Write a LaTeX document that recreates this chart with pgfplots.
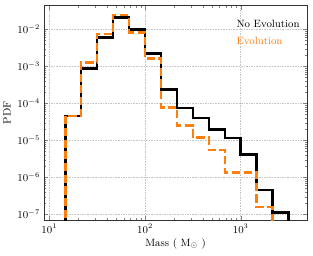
\documentclass[border=0pt]{standalone}
\usepackage{pgfplots}
\pgfplotsset{compat=1.18}
\usetikzlibrary{calc}
\definecolor{evo}{RGB}{255,127,14}
\begin{document}
\begin{tikzpicture}
\begin{axis}[
  name=ax,
  scale only axis,
  width=224.6pt, height=183pt,
  xmode=log, ymode=log,
  xmin=8.8, xmax=4930,
  ymin=7e-8, ymax=0.0435,
  tick align=inside,
  major tick length=3.5pt,
  minor tick length=2pt,
  grid=major,
  major grid style={densely dotted, gray!45, line width=0.4pt},
  axis line style={line width=0.8pt, black!80},
  xtick={10,100,1000},
  ytick={1e-7,1e-6,1e-5,1e-4,1e-3,1e-2},
  xlabel={Mass ( M$_{\odot}$ )},
  ylabel={PDF},
  label style={font=\small},
  xlabel style={yshift=2pt},
  ylabel style={yshift=-1pt},
  tick label style={font=\small},
  legend style={draw=none, fill=none, at={(0.995,0.955)}, anchor=north east, cells={anchor=west}, font=\small, row sep=2.5pt},
  legend cell align=left,
  legend image code/.code={},
]
\addplot[const plot, black, line width=2.1pt] coordinates {
(14.68,1e-9) (14.68,4.6e-5) (21.54,8.8e-4) (31.62,5.95e-3) (46.42,0.0211) (68.13,0.0099)
(100,2.24e-3) (146.8,2.39e-4) (215.4,7.6e-5) (316.2,4.0e-5) (464.2,1.98e-5) (681.3,1.16e-5)
(1000,4.19e-6) (1467.8,4.6e-7) (2154.4,1.13e-7) (3162.3,1e-9)
};
\addlegendentry{\textcolor{black}{No Evolution}}
\addplot[const plot, evo, line width=2.1pt, dash pattern=on 7pt off 3pt] coordinates {
(14.68,1e-9) (14.68,4.6e-5) (21.54,1.28e-3) (31.62,7.5e-3) (46.42,0.0244) (68.13,8.3e-3)
(100,1.61e-3) (146.8,7.8e-5) (215.4,2.49e-5) (316.2,1.18e-5) (464.2,5.48e-6) (681.3,1.36e-6)
(1000,1.36e-6) (1467.8,1.55e-7) (2154.4,1e-9)
};
\addlegendentry{\textcolor{evo}{Evolution}}
\end{axis}
\pgfresetboundingbox
\path[use as bounding box] ($(ax.south west)+(-37.6pt,-30.7pt)$) rectangle ($(ax.north east)+(5.1pt,4.9pt)$);
\end{tikzpicture}
\end{document}
